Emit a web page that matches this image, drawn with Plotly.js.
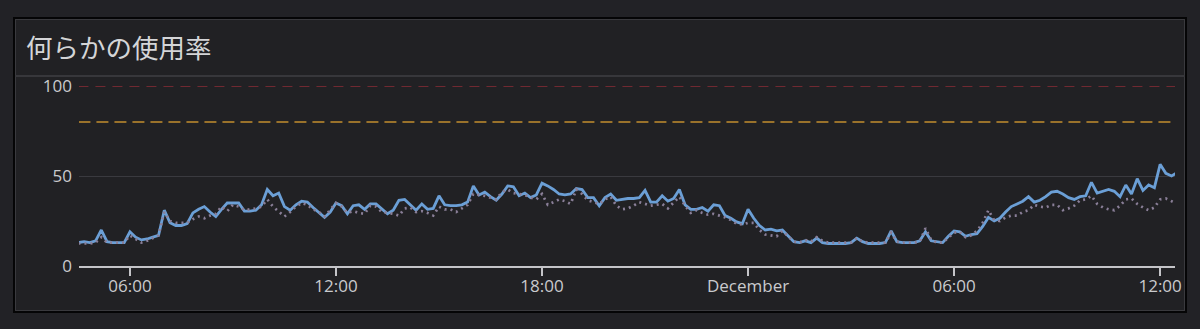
<!DOCTYPE html>
<html>
<head>
<meta charset="utf-8">
<script src="https://cdn.plot.ly/plotly-3.0.1.min.js"></script>
<style>
  html, body { margin:0; padding:0; background:#222226; width:1200px; height:329px; overflow:hidden; }
  #panel { position:absolute; left:13px; top:17px; width:1170px; height:292px; border:2px solid #050506; box-shadow: inset 0 0 0 1px #3a3a3e; background:#212124; }
  #sep { position:absolute; left:15px; top:75px; width:1170px; height:2px; background:#37373b; }
  #chart { position:absolute; left:0; top:0; width:1200px; height:329px; }
</style>
</head>
<body>
<div id="panel"></div>
<div id="sep"></div>
<div id="chart"></div>
<script>
// ---- data ----
const titleText = '何らかの使用率';
const seriesStart = '2023-11-30 04:30';   // first sample, 10-minute steps
const stepMinutes = 10;
const usageMain = [
  13,13.5,13,14,20,13.5,13,13,13,19,16,14.5,15,16,17,31,24,22.5,22.5,23.5,29.5,31.5,33,30,27.5,31.5,35,35,35,30.5,30.5,31,34,42.5,39,40.5,33,31,
  34,36,35.5,32.5,29.5,27,30,35,33.5,29,33.5,34,31.5,34.5,34.5,31.5,29,31,36.5,37,34,31,34.5,31.5,32,39,34,33.5,33.5,34,35.5,44.5,39.5,41,38.5,36.5,40,44.5,44,
  39,40.5,38,39.5,46,44.5,42.5,40,39.5,40,43,42.5,38,38,33.5,38,40,36.5,37,37.5,37.5,38,42,35.5,35.5,39,36,37.5,42.5,34,31.5,31.5,32.5,30.5,34,33.5,28,26.5,24.5,
  23.5,31.5,26.5,22.5,20,20.5,19.5,20,16.5,13.5,13,14,13,15.5,13,12.5,12.5,12.5,12.5,13,15.5,13.5,12.5,12.5,12.5,13,19.5,13.5,13,13,13,14,19,14,13.5,13,16.5,19.5,
  19,16.5,17.5,18,22,27,25,26.5,30,33,34.5,36,38.5,35.5,36.5,38.5,41,41.5,40,38,37,38.5,39,46.5,40.5,41.5,42.5,41.5,38.5,45,40,48.5,42,45,43.5,56.5,51.5,50,52
];
const usageCompare = [
  12.5,12.5,12.5,13,16,13,13,13,13,17,15,13,14,15.5,17,30,25,24,24,24,26,27.5,26.5,28,29,33,30.5,34,33,31,31.5,32,33,37,33,30,27.5,30,
  33,35,34,31.5,30,27.5,31,35,33,29.5,30.5,29.5,29,33.5,33,30,29.5,29,28,32,32.5,30,30.5,29.5,28,33,31.5,31.5,30,32,34,40,39.5,39,38,37,41,42.5,40.5,
  40,39.5,38,37,40,34,35.5,37,36,34.5,42.5,40,36.5,35.5,34.5,37,38.5,33.5,31.5,32,33.5,35.5,34.5,33.5,34,34.5,32,35.5,38.5,33.5,29.5,31,29.5,28.5,29,28,27,25.5,23.5,
  23,24,24,20,17.5,17,16.5,19.5,16.5,13.5,13,14.5,13.5,16,14,13,13,13,13,13,15.5,13.5,13,13,13,13,18.5,13.5,13,13,13,13.5,21,14.5,13,13,15.5,18.5,
  19,16,17,19.5,24,31,25.5,25,27,28,28,30,31,34,33,32.5,34,34,31,32,33.5,36.5,37,39,34.5,32.5,31.5,31,33.5,37,37.5,34.5,32.5,31,32.5,37,37.5,36,34.5
];
const thresholds = [100, 80];
const thresholdColors = ['#8a2d36', '#c28d2e'];
const xRange = ['2023-11-30 04:31', '2023-12-01 12:26'];
const tickVals = ['2023-11-30 06:00','2023-11-30 12:00','2023-11-30 18:00','2023-12-01 00:00','2023-12-01 06:00','2023-12-01 12:00'];
const tickText = ['06:00','12:00','18:00','December','06:00','12:00'];
const yTickVals = [0, 50, 100];

// ---- build timestamps ----
function fmt(d){
  const p = n => String(n).padStart(2,'0');
  return d.getUTCFullYear()+'-'+p(d.getUTCMonth()+1)+'-'+p(d.getUTCDate())+' '+p(d.getUTCHours())+':'+p(d.getUTCMinutes());
}
const t0 = Date.UTC(2023,10,30,4,30);
const times = usageMain.map((_,i)=>fmt(new Date(t0 + i*stepMinutes*60000)));

const traces = [];
thresholds.forEach((th,k)=>{
  traces.push({x:[times[0], times[times.length-1]], y:[th,th], mode:'lines', type:'scatter',
    line:{color:thresholdColors[k], width:1.5, dash: k===0 ? '10px,7px' : '12px,6px'}, hoverinfo:'skip', showlegend:false});
});
traces.push({x:times, y:usageMain, type:'scatter', mode:'lines', line:{color:'#6b9fd6', width:2.8}, showlegend:false});
traces.push({x:times, y:usageCompare, type:'scatter', mode:'lines', line:{color:'#8a7f98', width:2.7, dash:'2px,4px'}, showlegend:false});

const fontFam = '"Open Sans", Roboto, sans-serif';
const layout = {
  width:1200, height:329,
  paper_bgcolor:'rgba(0,0,0,0)', plot_bgcolor:'rgba(0,0,0,0)',
  margin:{l:79, r:25, t:86, b:63, pad:0},
  title:{text:titleText, xref:'container', yref:'container', x:26/1200, xanchor:'left', y:1-48.5/329, yanchor:'middle',
         font:{family:'"Noto Sans CJK JP", sans-serif', size:26.5, color:'#d4d5d7'}},
  xaxis:{type:'date', range:xRange, tickvals:tickVals, ticktext:tickText, showgrid:false, zeroline:false,
         showline:true, linecolor:'#c4c4c8', linewidth:1.5, ticks:'outside', ticklen:8, tickwidth:1.5, tickcolor:'#c4c4c8',
         ticklabelstandoff:-4, tickfont:{family:fontFam, size:17, color:'#c9cacd'}, fixedrange:true},
  yaxis:{range:[0,100], tickvals:yTickVals, showgrid:true, gridcolor:'#3a3a3f', gridwidth:1, zeroline:false, showline:false,
         ticks:'', ticklabelstandoff:6, tickfont:{family:fontFam, size:17, color:'#c9cacd'}, fixedrange:true},
  showlegend:false, hovermode:false
};
Plotly.newPlot('chart', traces, layout, {displayModeBar:false, staticPlot:true});
</script>
</body>
</html>
